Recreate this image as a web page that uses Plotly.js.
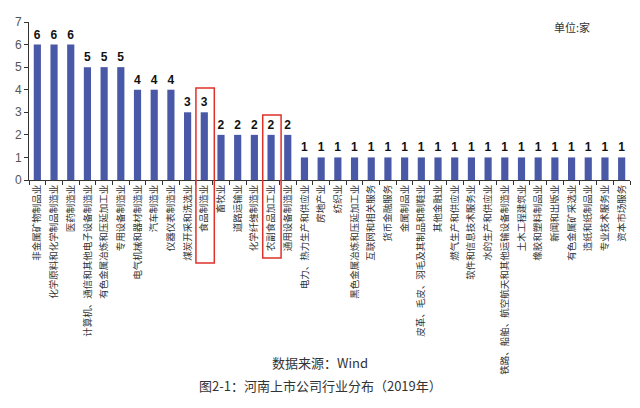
<!DOCTYPE html>
<html>
<head>
<meta charset="utf-8">
<script src="https://cdn.plot.ly/plotly-3.0.1.min.js"></script>
<style>html,body{margin:0;padding:0;background:#fff;}#chart{width:640px;height:408px;}</style>
</head>
<body>
<div id="chart"></div>
<script>
const industries = [
  "非金属矿物制品业",
  "化学原料和化学制品制造业",
  "医药制造业",
  "计算机、通信和其他电子设备制造业",
  "有色金属冶炼和压延加工业",
  "专用设备制造业",
  "电气机械和器材制造业",
  "汽车制造业",
  "仪器仪表制造业",
  "煤炭开采和洗选业",
  "食品制造业",
  "畜牧业",
  "道路运输业",
  "化学纤维制造业",
  "农副食品加工业",
  "通用设备制造业",
  "电力、热力生产和供应业",
  "房地产业",
  "纺织业",
  "黑色金属冶炼和压延加工业",
  "互联网和相关服务",
  "货币金融服务",
  "金属制品业",
  "皮革、毛皮、羽毛及其制品和制鞋业",
  "其他金融业",
  "燃气生产和供应业",
  "软件和信息技术服务业",
  "水的生产和供应业",
  "铁路、船舶、航空航天和其他运输设备制造业",
  "土木工程建筑业",
  "橡胶和塑料制品业",
  "新闻和出版业",
  "有色金属矿采选业",
  "造纸和纸制品业",
  "专业技术服务业",
  "资本市场服务"
];
const companyCounts = [6,6,6,5,5,5,4,4,4,3,3,2,2,2,2,2,1,1,1,1,1,1,1,1,1,1,1,1,1,1,1,1,1,1,1,1];
const highlighted = ["食品制造业", "农副食品加工业"];
const yTicks = [0,1,2,3,4,5,6,7];
const unitLabel = "单位:家";
const sourceLabel = "数据来源：Wind";
const figureTitle = "图2-1：河南上市公司行业分布（2019年）";

const cjk = "'Noto Sans CJK SC', 'Noto Sans', sans-serif";

const trace = {
  type: "bar",
  x: industries,
  y: companyCounts,
  marker: {color: "#4a59a7"},
  text: companyCounts.map(String),
  textposition: "outside",
  cliponaxis: false,
  textfont: {family: "'Liberation Sans', Arial, sans-serif", size: 12, color: "#111", weight: "bold"},
  hoverinfo: "x+y"
};

const hlShapes = [
  {idx: industries.indexOf(highlighted[0]), y0: -0.525, y1: 0.582},
  {idx: industries.indexOf(highlighted[1]), y0: -0.494, y1: 0.411}
].map(h => ({
  type: "rect", xref: "x", yref: "paper",
  x0: h.idx - 0.5, x1: h.idx + 0.6, y0: h.y0, y1: h.y1,
  line: {color: "#e0302a", width: 1.5}, fillcolor: "rgba(0,0,0,0)"
}));

const layout = {
  width: 640, height: 408,
  margin: {l: 29, r: 10, t: 22, b: 228},
  paper_bgcolor: "#fff", plot_bgcolor: "#fff",
  showlegend: false,
  bargap: 0.57,
  xaxis: {
    type: "category",
    range: [-0.5, 35.5],
    tickangle: -90,
    tickson: "boundaries",
    ticks: "outside", ticklen: 4, tickcolor: "#333",
    showline: true, linecolor: "#333", linewidth: 1,
    showgrid: false,
    tickfont: {family: cjk, size: 9.5, color: "#333"},
    automargin: false
  },
  yaxis: {
    range: [0, 7],
    tickvals: yTicks,
    ticks: "outside", ticklen: 4, tickcolor: "#333",
    showline: true, linecolor: "#333", linewidth: 1,
    showgrid: false, zeroline: false,
    tickfont: {family: "'Liberation Sans', Arial, sans-serif", size: 12, color: "#555"},
    automargin: false
  },
  shapes: hlShapes,
  annotations: [
    {text: unitLabel, xref: "paper", yref: "paper", x: 0.903, y: 0.97, xanchor: "center", yanchor: "middle",
     showarrow: false, font: {family: cjk, size: 11, color: "#333"}},
    {text: sourceLabel, xref: "paper", yref: "paper", x: 0.485, y: -1.152, xanchor: "center", yanchor: "middle",
     showarrow: false, font: {family: cjk, size: 13, color: "#333"}},
    {text: figureTitle, xref: "paper", yref: "paper", x: 0.485, y: -1.30, xanchor: "center", yanchor: "middle",
     showarrow: false, font: {family: cjk, size: 13, color: "#333"}}
  ]
};

Plotly.newPlot("chart", [trace], layout, {displayModeBar: false, staticPlot: true});
</script>
</body>
</html>
